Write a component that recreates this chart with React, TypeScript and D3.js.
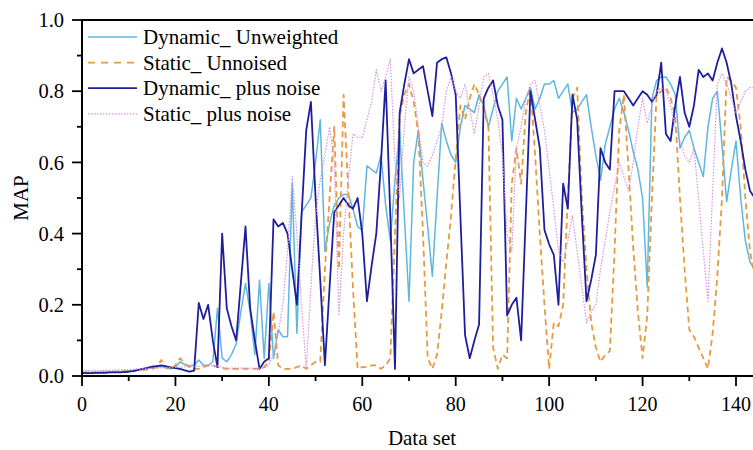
import React from "react";
import * as d3 from "d3";

const dynUnweighted = [
  0.010, 0.010, 0.010, 0.010, 0.011, 0.011, 0.011, 0.012, 0.012, 0.013,
  0.014, 0.015, 0.017, 0.019, 0.021, 0.023, 0.025, 0.027, 0.024, 0.020,
  0.025, 0.040, 0.032, 0.028, 0.030, 0.045, 0.030, 0.030, 0.040, 0.19,
  0.05, 0.04, 0.06, 0.09, 0.18, 0.26, 0.18, 0.06, 0.27, 0.05,
  0.26, 0.05, 0.13, 0.11, 0.11, 0.54, 0.12, 0.46, 0.48, 0.50,
  0.60, 0.72, 0.35, 0.43, 0.48, 0.50, 0.51, 0.51, 0.47, 0.42,
  0.41, 0.59, 0.58, 0.57, 0.62, 0.48, 0.38, 0.55, 0.69, 0.45,
  0.21, 0.60, 0.69, 0.55, 0.42, 0.28, 0.50, 0.71, 0.66, 0.62,
  0.60, 0.70, 0.76, 0.75, 0.74, 0.79, 0.76, 0.70, 0.75, 0.80,
  0.82, 0.84, 0.66, 0.78, 0.75, 0.78, 0.81, 0.75, 0.78, 0.82,
  0.82, 0.83, 0.78, 0.80, 0.82, 0.74, 0.75, 0.77, 0.79, 0.70,
  0.62, 0.55, 0.65, 0.70, 0.75, 0.78, 0.74, 0.69, 0.63, 0.58,
  0.50, 0.25, 0.78, 0.83, 0.84, 0.84, 0.82, 0.79, 0.64, 0.67,
  0.69, 0.64, 0.60, 0.56, 0.70, 0.78, 0.80, 0.65, 0.49, 0.58,
  0.66, 0.50, 0.38, 0.32, 0.30,
];

const staticUnnoised = [
  0.010, 0.010, 0.010, 0.010, 0.011, 0.011, 0.012, 0.012, 0.013, 0.013,
  0.014, 0.015, 0.016, 0.017, 0.018, 0.020, 0.025, 0.045, 0.022, 0.020,
  0.030, 0.050, 0.035, 0.025, 0.020, 0.020, 0.025, 0.030, 0.030, 0.025,
  0.022, 0.020, 0.020, 0.020, 0.020, 0.020, 0.020, 0.020, 0.020, 0.025,
  0.040, 0.18, 0.030, 0.020, 0.020, 0.020, 0.025, 0.030, 0.020, 0.030,
  0.040, 0.040, 0.30, 0.50, 0.70, 0.30, 0.79, 0.52, 0.25, 0.020,
  0.025, 0.025, 0.030, 0.030, 0.020, 0.030, 0.050, 0.40, 0.73, 0.79,
  0.82, 0.77, 0.68, 0.40, 0.05, 0.02, 0.06, 0.18, 0.32, 0.45,
  0.61, 0.76, 0.72, 0.78, 0.82, 0.79, 0.75, 0.70, 0.08, 0.02,
  0.06, 0.05, 0.54, 0.64, 0.54, 0.74, 0.81, 0.62, 0.40, 0.20,
  0.02, 0.15, 0.14, 0.20, 0.50, 0.78, 0.81, 0.50, 0.30, 0.15,
  0.08, 0.04, 0.06, 0.07, 0.35, 0.69, 0.79, 0.58, 0.36, 0.18,
  0.05, 0.17, 0.50, 0.79, 0.80, 0.81, 0.78, 0.73, 0.50, 0.30,
  0.13, 0.11, 0.08, 0.05, 0.02, 0.12, 0.28, 0.50, 0.84, 0.83,
  0.81, 0.70, 0.50, 0.35, 0.28,
];

const dynPlusNoise = [
  0.008, 0.008, 0.008, 0.009, 0.009, 0.009, 0.010, 0.010, 0.010, 0.011,
  0.012, 0.014, 0.017, 0.020, 0.023, 0.026, 0.028, 0.030, 0.027, 0.024,
  0.022, 0.020, 0.016, 0.012, 0.015, 0.205, 0.16, 0.20, 0.10, 0.025,
  0.40, 0.19, 0.14, 0.10, 0.26, 0.42, 0.19, 0.10, 0.02, 0.04,
  0.05, 0.44, 0.42, 0.43, 0.40, 0.30, 0.20, 0.45, 0.69, 0.77,
  0.50, 0.27, 0.03, 0.25, 0.46, 0.48, 0.50, 0.48, 0.47, 0.50,
  0.40, 0.21, 0.31, 0.40, 0.60, 0.83, 0.45, 0.02, 0.74, 0.82,
  0.89, 0.85, 0.86, 0.87, 0.80, 0.73, 0.88, 0.89, 0.895, 0.85,
  0.79, 0.45, 0.115, 0.05, 0.10, 0.145, 0.78, 0.81, 0.83, 0.76,
  0.72, 0.17, 0.20, 0.22, 0.10, 0.45, 0.80, 0.72, 0.64, 0.41,
  0.37, 0.34, 0.20, 0.54, 0.47, 0.79, 0.72, 0.45, 0.21, 0.27,
  0.34, 0.64, 0.60, 0.58, 0.80, 0.80, 0.80, 0.78, 0.76, 0.78,
  0.80, 0.79, 0.77, 0.79, 0.88, 0.68, 0.66, 0.76, 0.84, 0.74,
  0.70, 0.76, 0.86, 0.84, 0.85, 0.83, 0.88, 0.92, 0.88, 0.82,
  0.73, 0.66, 0.58, 0.52, 0.50,
];

const staticPlusNoise = [
  0.015, 0.015, 0.015, 0.015, 0.016, 0.016, 0.016, 0.017, 0.017, 0.018,
  0.018, 0.019, 0.020, 0.020, 0.021, 0.022, 0.022, 0.023, 0.023, 0.024,
  0.025, 0.025, 0.026, 0.026, 0.027, 0.027, 0.028, 0.028, 0.030, 0.028,
  0.025, 0.022, 0.022, 0.022, 0.022, 0.022, 0.022, 0.022, 0.022, 0.022,
  0.03, 0.06, 0.12, 0.20, 0.35, 0.56, 0.40, 0.20, 0.02, 0.25,
  0.45, 0.55, 0.62, 0.70, 0.60, 0.17, 0.40, 0.55, 0.68, 0.67,
  0.67, 0.72, 0.77, 0.86, 0.80, 0.84, 0.89, 0.60, 0.50, 0.70,
  0.84, 0.80, 0.70, 0.60, 0.59, 0.62, 0.66, 0.70, 0.80, 0.84,
  0.80, 0.78, 0.82, 0.75, 0.68, 0.76, 0.84, 0.85, 0.79, 0.72,
  0.62, 0.40, 0.35, 0.64, 0.70, 0.78, 0.82, 0.83, 0.76, 0.69,
  0.58, 0.47, 0.35, 0.32, 0.38, 0.45, 0.35, 0.25, 0.15, 0.18,
  0.20, 0.30, 0.38, 0.46, 0.53, 0.60, 0.56, 0.52, 0.60, 0.70,
  0.78, 0.71, 0.76, 0.80, 0.81, 0.80, 0.76, 0.70, 0.66, 0.62,
  0.60, 0.64, 0.50, 0.35, 0.21, 0.52, 0.82, 0.85, 0.82, 0.78,
  0.74, 0.77, 0.80, 0.81, 0.81,
];

const seriesNames = [
  "Dynamic_ Unweighted",
  "Static_ Unnoised",
  "Dynamic_ plus noise",
  "Static_ plus noise",
];
const xTicks = [0, 20, 40, 60, 80, 100, 120, 140];
const yTicks = [0, 0.2, 0.4, 0.6, 0.8, 1.0];

const W = 753;
const H = 450;
const left = 82;
const right = 753;
const top = 20;
const bottom = 376;

const styles = [
  { color: "#5cb8de", width: 1.5, dash: "" },
  { color: "#e59b3e", width: 1.8, dash: "6,4" },
  { color: "#1f1f9e", width: 1.8, dash: "" },
  { color: "#d990e2", width: 1.2, dash: "1.5,1.5" },
];

export default function App() {
  const x = d3.scaleLinear().domain([0, 140]).range([left, 736]);
  const y = d3.scaleLinear().domain([0, 1]).range([bottom, top]);
  const all = [dynUnweighted, staticUnnoised, dynPlusNoise, staticPlusNoise];
  const line = d3
    .line<number>()
    .x((_, i) => x(i))
    .y((d) => y(d));
  const font = "Liberation Serif";
  const xMinor = d3.range(0, 150, 10).filter((v) => x(v) <= right);
  const yMinor = d3.range(0, 1.01, 0.1);

  return (
    <svg
      width={W}
      height={H}
      style={{ position: "absolute", left: 0, top: 0, background: "#fff" }}
      fontFamily={font}
    >
      <defs>
        <clipPath id="plot">
          <rect x={left} y={top - 2} width={right - left} height={bottom - top + 2} />
        </clipPath>
      </defs>
      <g clipPath="url(#plot)">
        {all.map((s, i) => (
          <path
            key={i}
            d={line(s) || ""}
            fill="none"
            stroke={styles[i].color}
            strokeWidth={styles[i].width}
            strokeDasharray={styles[i].dash || undefined}
            strokeLinejoin="round"
          />
        ))}
      </g>
      <line x1={left} x2={right} y1={top} y2={top} stroke="#000" strokeWidth={2} />
      <line x1={left} x2={left} y1={top - 1} y2={bottom + 1} stroke="#000" strokeWidth={2} />
      <line x1={left} x2={right} y1={bottom} y2={bottom} stroke="#000" strokeWidth={2} />
      {yMinor.map((v, i) => (
        <line
          key={"ym" + i}
          x1={left}
          x2={left - (i % 2 === 0 ? 10 : 5)}
          y1={y(v)}
          y2={y(v)}
          stroke="#000"
          strokeWidth={1.8}
        />
      ))}
      {yTicks.map((v) => (
        <text
          key={"yl" + v}
          x={64}
          y={y(v)}
          dy="0.35em"
          textAnchor="end"
          fontSize={20.5}
        >
          {v.toFixed(1)}
        </text>
      ))}
      {xMinor.map((v) => (
        <line
          key={"xm" + v}
          x1={x(v)}
          x2={x(v)}
          y1={bottom}
          y2={bottom + (v % 20 === 0 ? 10 : 5)}
          stroke="#000"
          strokeWidth={1.8}
        />
      ))}
      {xTicks.map((v) => (
        <text key={"xl" + v} x={x(v)} y={411} textAnchor="middle" fontSize={20}>
          {v}
        </text>
      ))}
      <text
        transform={`translate(28, 198) rotate(-90)`}
        textAnchor="middle"
        fontSize={21}
      >
        MAP
      </text>
      <text x={422} y={445} textAnchor="middle" fontSize={21}>
        Data set
      </text>
      {seriesNames.map((name, i) => {
        const ly = 37 + i * 25.6;
        return (
          <g key={name}>
            <line
              x1={88}
              x2={137}
              y1={ly}
              y2={ly}
              stroke={styles[i].color}
              strokeWidth={styles[i].width}
              strokeDasharray={i === 1 ? "7,6" : styles[i].dash || undefined}
            />
            <text x={143} y={ly} dy="0.33em" fontSize={21}>
              {name}
            </text>
          </g>
        );
      })}
    </svg>
  );
}
